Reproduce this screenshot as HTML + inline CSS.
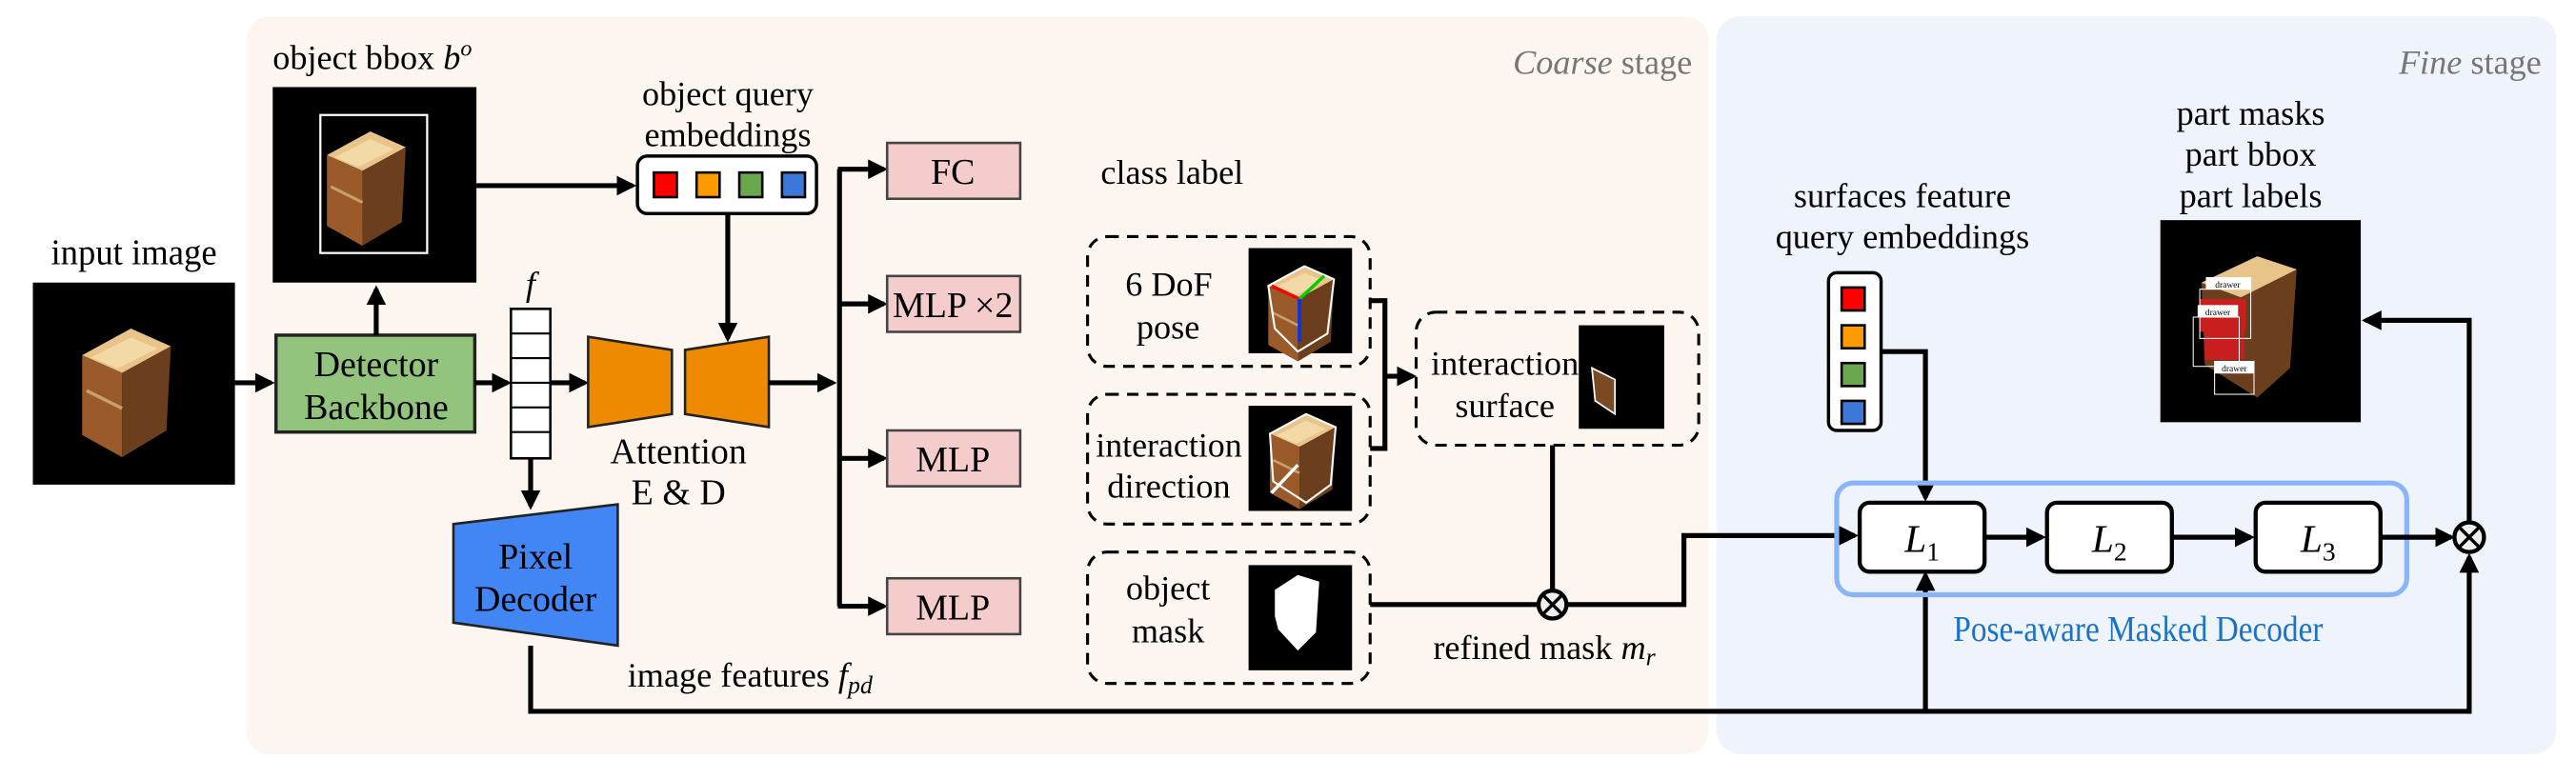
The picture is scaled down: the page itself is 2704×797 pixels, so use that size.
<!DOCTYPE html>
<html><head><meta charset="utf-8"><style>
html,body{margin:0;padding:0;background:#fff;font-family:"Liberation Serif","DejaVu Serif",serif;}
svg{display:block}
svg text{font-family:"Liberation Serif","DejaVu Serif",serif !important;}
</style></head><body>
<svg width="2704" height="797" viewBox="0 0 1568 462" preserveAspectRatio="none" xmlns="http://www.w3.org/2000/svg" font-family="Liberation Serif, DejaVu Serif, serif">
<defs>
<marker id="ah" markerWidth="4" markerHeight="4" refX="3.2" refY="2" orient="auto" markerUnits="strokeWidth">
<path d="M0,0 L4,2 L0,4 z" fill="#000"/></marker>
<g id="cab">
<polygon points="0,12 22,0 40,8 18,20" fill="#e8c48a"/>
<polygon points="0,12 18,20 18,58 0,48" fill="#9a5a2a"/>
<polygon points="18,20 40,8 38,46 18,58" fill="#6b3f1d"/>
<polygon points="4,13 22,4 34,9 16,18" fill="#f3d9a6"/>
<line x1="2" y1="28" x2="18" y2="36" stroke="#c8a070" stroke-width="1.5"/>
</g>
</defs>
<!-- backgrounds -->
<rect x="150" y="10" width="890" height="449" rx="14" fill="#fdf6f0"/>
<rect x="1045" y="10" width="511" height="449" rx="14" fill="#eef3fc"/>
<text x="1030" y="45" text-anchor="end" font-size="21" fill="#777"><tspan font-style="italic">Coarse</tspan> stage</text>
<text x="1547" y="45" text-anchor="end" font-size="21" fill="#777"><tspan font-style="italic">Fine</tspan> stage</text>

<!-- input image -->
<text x="31" y="161" font-size="22" textLength="101" lengthAdjust="spacingAndGlyphs">input image</text>
<rect x="20" y="172" width="123" height="123" fill="#000"/>
<use href="#cab" transform="translate(50,200) scale(1.35)"/>
<line x1="143" y1="233" x2="165" y2="233" stroke="#000" stroke-width="3" marker-end="url(#ah)"/>

<!-- detector -->
<rect x="168" y="204" width="121" height="59" fill="#93c47d" stroke="#222" stroke-width="2"/>
<text x="229" y="229" text-anchor="middle" font-size="22">Detector</text>
<text x="229" y="255" text-anchor="middle" font-size="22">Backbone</text>
<line x1="229" y1="204" x2="229" y2="176" stroke="#000" stroke-width="3" marker-end="url(#ah)"/>

<!-- bbox image -->
<text x="166" y="42" font-size="21">object bbox <tspan font-style="italic">b</tspan><tspan font-style="italic" font-size="14" dy="-8">o</tspan></text>
<rect x="166" y="53" width="124" height="119" fill="#000"/>
<rect x="195" y="70" width="65" height="84" fill="none" stroke="#fff" stroke-width="1.3"/>
<use href="#cab" transform="translate(199,80) scale(1.2)"/>
<line x1="290" y1="113" x2="385" y2="113" stroke="#000" stroke-width="3" marker-end="url(#ah)"/>

<!-- object query embeddings -->
<text x="443" y="64" text-anchor="middle" font-size="21">object query</text>
<text x="443" y="89" text-anchor="middle" font-size="21">embeddings</text>
<rect x="388" y="95" width="109" height="35" rx="6" fill="#fff" stroke="#000" stroke-width="2"/>
<rect x="398" y="105" width="14" height="15" fill="#f00" stroke="#000" stroke-width="1.5"/>
<rect x="424" y="105" width="14" height="15" fill="#f90" stroke="#000" stroke-width="1.5"/>
<rect x="450" y="105" width="14" height="15" fill="#6aa84f" stroke="#000" stroke-width="1.5"/>
<rect x="476" y="105" width="14" height="15" fill="#3c78d8" stroke="#000" stroke-width="1.5"/>
<line x1="443" y1="130" x2="443" y2="206" stroke="#000" stroke-width="3" marker-end="url(#ah)"/>

<!-- f column -->
<text x="320" y="180" font-size="21" font-style="italic">f</text>
<rect x="311" y="188" width="24" height="91" fill="#fff" stroke="#000" stroke-width="1.5"/>
<g stroke="#000" stroke-width="1.2">
<line x1="311" y1="203" x2="335" y2="203"/><line x1="311" y1="218" x2="335" y2="218"/>
<line x1="311" y1="233" x2="335" y2="233"/><line x1="311" y1="248" x2="335" y2="248"/>
<line x1="311" y1="263" x2="335" y2="263"/></g>
<line x1="289" y1="233" x2="309" y2="233" stroke="#000" stroke-width="3" marker-end="url(#ah)"/>
<line x1="335" y1="233" x2="356" y2="233" stroke="#000" stroke-width="3" marker-end="url(#ah)"/>
<line x1="323" y1="279" x2="323" y2="308" stroke="#000" stroke-width="3" marker-end="url(#ah)"/>

<!-- attention -->
<polygon points="358,205 409,213 409,252 358,260" fill="#ed8a00" stroke="#222" stroke-width="1.5"/>
<polygon points="417,213 468,205 468,260 417,252" fill="#ed8a00" stroke="#222" stroke-width="1.5"/>
<text x="413" y="282" text-anchor="middle" font-size="22">Attention</text>
<text x="413" y="307" text-anchor="middle" font-size="22">E &amp; D</text>
<line x1="468" y1="233" x2="507" y2="233" stroke="#000" stroke-width="3" marker-end="url(#ah)"/>

<!-- pixel decoder -->
<polygon points="276,319 376,307 376,393 276,379" fill="#4285f4" stroke="#222" stroke-width="1.5"/>
<text x="326" y="346" text-anchor="middle" font-size="22">Pixel</text>
<text x="326" y="372" text-anchor="middle" font-size="22">Decoder</text>
<text x="382" y="418" font-size="21">image features <tspan font-style="italic">f</tspan><tspan font-style="italic" font-size="15" dy="4">pd</tspan></text>

<!-- bus -->
<polyline points="511,103 511,369" fill="none" stroke="#000" stroke-width="3"/>
<line x1="510" y1="103" x2="538" y2="103" stroke="#000" stroke-width="3" marker-end="url(#ah)"/>
<line x1="510" y1="185" x2="538" y2="185" stroke="#000" stroke-width="3" marker-end="url(#ah)"/>
<line x1="510" y1="279" x2="538" y2="279" stroke="#000" stroke-width="3" marker-end="url(#ah)"/>
<line x1="510" y1="369" x2="538" y2="369" stroke="#000" stroke-width="3" marker-end="url(#ah)"/>

<g fill="#f4cccc" stroke="#444" stroke-width="1.5">
<rect x="540" y="87" width="81" height="34"/>
<rect x="540" y="168" width="81" height="34"/>
<rect x="540" y="262" width="81" height="34"/>
<rect x="540" y="352" width="81" height="34"/>
</g>
<text x="580" y="112" text-anchor="middle" font-size="22">FC</text>
<text x="580" y="193" text-anchor="middle" font-size="22">MLP ×2</text>
<text x="580" y="287" text-anchor="middle" font-size="22">MLP</text>
<text x="580" y="377" text-anchor="middle" font-size="22">MLP</text>
<text x="670" y="112" font-size="21">class label</text>

<!-- dashed boxes -->
<g fill="none" stroke="#000" stroke-width="1.8" stroke-dasharray="7,5">
<rect x="662" y="144" width="172" height="79" rx="12"/>
<rect x="662" y="240" width="172" height="79" rx="12"/>
<rect x="662" y="336" width="172" height="80" rx="12"/>
<rect x="862" y="190" width="172" height="81" rx="12"/>
</g>
<text x="685" y="180" font-size="21" textLength="53" lengthAdjust="spacingAndGlyphs">6 DoF</text>
<text x="711" y="206" text-anchor="middle" font-size="21">pose</text>
<rect x="760" y="151" width="63" height="64" fill="#000"/>
<use href="#cab" x="772" y="162"/>
<polygon points="772,174 794,162 812,170 808,203 790,214 776,200" fill="none" stroke="#fff" stroke-width="1.2"/>
<line x1="791" y1="182" x2="774" y2="174" stroke="#f00" stroke-width="2"/>
<line x1="791" y1="182" x2="806" y2="168" stroke="#0c0" stroke-width="2"/>
<line x1="791" y1="182" x2="791" y2="208" stroke="#03f" stroke-width="2"/>

<text x="667" y="278" font-size="21" textLength="89" lengthAdjust="spacingAndGlyphs">interaction</text>
<text x="674" y="303" font-size="21" textLength="75" lengthAdjust="spacingAndGlyphs">direction</text>
<rect x="760" y="247" width="63" height="64" fill="#000"/>
<use href="#cab" x="773" y="252"/>
<polygon points="773,264 795,252 813,260 810,295 795,306 775,293" fill="none" stroke="#fff" stroke-width="1.2"/>
<line x1="790" y1="283" x2="774" y2="300" stroke="#fff" stroke-width="2"/>

<text x="711" y="365" text-anchor="middle" font-size="21">object</text>
<text x="711" y="391" text-anchor="middle" font-size="21">mask</text>
<rect x="760" y="344" width="63" height="64" fill="#000"/>
<polygon points="776,359 790,350 803,354 801,385 790,396 778,383 776,375" fill="#fff"/>

<!-- bracket -->
<polyline points="834,183 843,183 843,273 834,273" fill="none" stroke="#000" stroke-width="3"/>
<line x1="842" y1="229" x2="860" y2="229" stroke="#000" stroke-width="3" marker-end="url(#ah)"/>

<text x="871" y="228" font-size="21" textLength="90" lengthAdjust="spacingAndGlyphs">interaction</text>
<text x="916" y="254" text-anchor="middle" font-size="21">surface</text>
<rect x="961" y="198" width="52" height="63" fill="#000"/>
<polygon points="969,224 983,231 983,252 971,244" fill="#7a4a22" stroke="#fff" stroke-width="1"/>

<!-- refined mask -->
<line x1="945" y1="271" x2="945" y2="360" stroke="#000" stroke-width="3"/>
<line x1="834" y1="368" x2="937" y2="368" stroke="#000" stroke-width="3"/>
<circle cx="945" cy="368" r="8.5" fill="#eee" stroke="#000" stroke-width="2.5"/>
<line x1="939" y1="362" x2="951" y2="374" stroke="#000" stroke-width="2"/>
<line x1="951" y1="362" x2="939" y2="374" stroke="#000" stroke-width="2"/>
<text x="940" y="401" text-anchor="middle" font-size="21">refined mask <tspan font-style="italic">m</tspan><tspan font-style="italic" font-size="15" dy="4">r</tspan></text>
<polyline points="953,368 1025,368 1025,326 1129,326" fill="none" stroke="#000" stroke-width="3" marker-end="url(#ah)"/>

<!-- bottom line -->
<polyline points="323,393 323,433 1503,433 1503,339" fill="none" stroke="#000" stroke-width="3" marker-end="url(#ah)"/>
<line x1="1172" y1="433" x2="1172" y2="350" stroke="#000" stroke-width="3" marker-end="url(#ah)"/>

<!-- surfaces -->
<text x="1158" y="126" text-anchor="middle" font-size="21">surfaces feature</text>
<text x="1158" y="151" text-anchor="middle" font-size="21">query embeddings</text>
<rect x="1113" y="166" width="32" height="96" rx="5" fill="#fff" stroke="#000" stroke-width="2"/>
<rect x="1121" y="175" width="14" height="14" fill="#f00" stroke="#000" stroke-width="1.5"/>
<rect x="1121" y="198" width="14" height="14" fill="#f90" stroke="#000" stroke-width="1.5"/>
<rect x="1121" y="221" width="14" height="14" fill="#6aa84f" stroke="#000" stroke-width="1.5"/>
<rect x="1121" y="244" width="14" height="14" fill="#3c78d8" stroke="#000" stroke-width="1.5"/>
<polyline points="1145,214 1172,214 1172,303" fill="none" stroke="#000" stroke-width="3" marker-end="url(#ah)"/>

<!-- pose-aware decoder -->
<rect x="1118" y="294" width="347" height="68" rx="10" fill="none" stroke="#8ab4f8" stroke-width="3"/>
<g fill="#fff" stroke="#000" stroke-width="2.5">
<rect x="1132" y="306" width="76" height="42" rx="6"/>
<rect x="1246" y="306" width="76" height="42" rx="6"/>
<rect x="1373" y="306" width="76" height="42" rx="6"/>
</g>
<text x="1170" y="336" text-anchor="middle" font-size="24" font-style="italic">L<tspan font-style="normal" font-size="16" dy="5">1</tspan></text>
<text x="1284" y="336" text-anchor="middle" font-size="24" font-style="italic">L<tspan font-style="normal" font-size="16" dy="5">2</tspan></text>
<text x="1411" y="336" text-anchor="middle" font-size="24" font-style="italic">L<tspan font-style="normal" font-size="16" dy="5">3</tspan></text>
<line x1="1208" y1="327" x2="1243" y2="327" stroke="#000" stroke-width="3" marker-end="url(#ah)"/>
<line x1="1322" y1="327" x2="1370" y2="327" stroke="#000" stroke-width="3" marker-end="url(#ah)"/>
<line x1="1449" y1="327" x2="1492" y2="327" stroke="#000" stroke-width="3" marker-end="url(#ah)"/>
<circle cx="1503" cy="327" r="9" fill="#eee" stroke="#000" stroke-width="2.5"/>
<line x1="1497" y1="321" x2="1509" y2="333" stroke="#000" stroke-width="2"/>
<line x1="1509" y1="321" x2="1497" y2="333" stroke="#000" stroke-width="2"/>
<text x="1189" y="390" font-size="22" fill="#1a73c8" textLength="225" lengthAdjust="spacingAndGlyphs">Pose-aware Masked Decoder</text>
<polyline points="1503,318 1503,195 1440,195" fill="none" stroke="#000" stroke-width="3" marker-end="url(#ah)"/>

<!-- part output -->
<text x="1370" y="76" text-anchor="middle" font-size="21">part masks</text>
<text x="1370" y="101" text-anchor="middle" font-size="21">part bbox</text>
<text x="1370" y="126" text-anchor="middle" font-size="21">part labels</text>
<rect x="1315" y="134" width="122" height="123" fill="#000"/>
<polygon points="1340,172 1374,156 1398,164 1394,224 1374,242 1342,222" fill="#6b3f1d"/>
<polygon points="1340,172 1374,156 1398,164 1364,181" fill="#e8c48a"/>
<rect x="1339" y="182" width="28" height="20" fill="#c81e1e"/>
<rect x="1342" y="201" width="24" height="18" fill="#c81e1e"/>
<g fill="#fff" stroke="#fff" stroke-width="0.6">
<rect x="1343" y="169" width="27" height="7"/><rect x="1338" y="186" width="24" height="7"/><rect x="1348" y="220" width="24" height="7"/>
</g>
<g fill="none" stroke="#fff" stroke-width="0.6"><rect x="1339" y="176" width="31" height="30"/><rect x="1335" y="193" width="28" height="30"/><rect x="1348" y="227" width="24" height="13"/></g>
<text x="1356" y="175" font-size="5.5" text-anchor="middle">drawer</text>
<text x="1350" y="192" font-size="5.5" text-anchor="middle">drawer</text>
<text x="1360" y="226" font-size="5.5" text-anchor="middle">drawer</text>
</svg>
</body></html>
